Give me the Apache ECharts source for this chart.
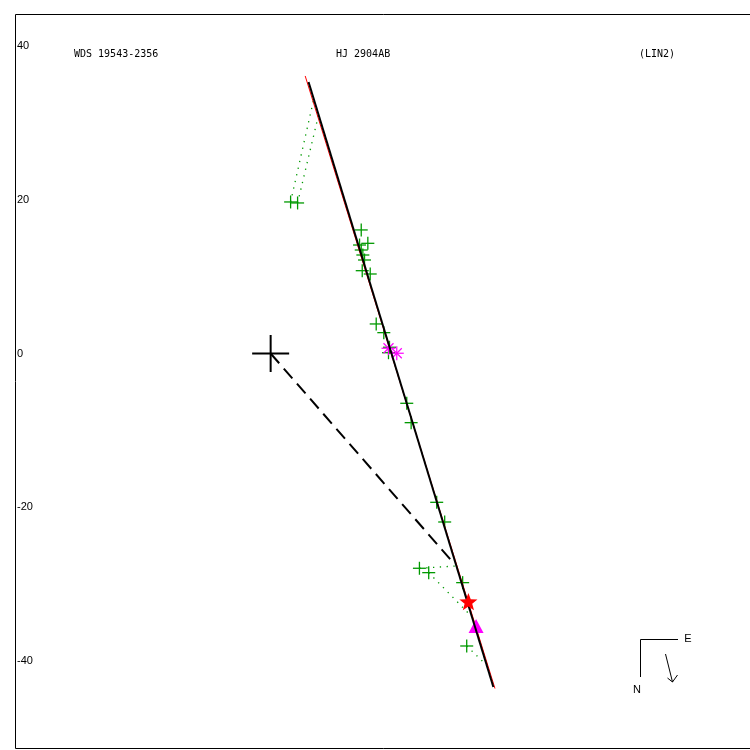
<!DOCTYPE html>
<html>
<head>
<meta charset="utf-8">
<script src="https://cdn.jsdelivr.net/npm/echarts@6/dist/echarts.min.js"></script>
<style>html,body{margin:0;padding:0;background:#fff}#c{width:750px;height:750px}</style>
</head>
<body>
<div id="c"></div>
<script>
// ---- data (arcsec offsets) ----
const xRange = [-33.30, 62.44];
const yRange = [-51.45, 44.16];
const yTickLabels = [-40, -20, 0, 20, 40];

const obsX = [2.60, 3.51, 11.80, 12.66, 11.58, 11.80, 12.01, 12.23, 11.93, 12.97, 13.75, 14.74, 15.48, 15.35, 17.73, 18.30, 21.63, 22.67, 19.38, 20.59, 25.01, 25.54];
const obsY = [19.71, 19.58, 16.07, 14.33, 14.11, 13.46, 12.81, 12.16, 10.77, 10.34, 3.84, 2.71, 0.81, 0.10, -6.48, -9.00, -19.36, -21.92, -27.94, -28.51, -29.81, -38.05];

// O-C residual lines: observation index -> predicted point
const ocIndex = [0, 1, 18, 19, 21];
const ocPredX = [5.59, 6.24, 24.20, 25.86, 28.10];
const ocPredY = [32.98, 31.02, -27.64, -33.89, -40.52];

const orbitBlackX = [4.94, 29.01];
const orbitBlackY = [35.32, -43.38];
const orbitRedX = [4.50, 29.22];
const orbitRedY = [36.10, -43.58];

const nodeLineX = [0, 23.93];
const nodeLineY = [0, -27.38];

const specialX = [15.35, 16.43];   // magenta asterisks
const specialY = [0.68, 0.03];
const starPt = [25.76, -32.39];     // red star
const triPt = [26.76, -35.45];      // magenta triangle
const originPt = [0, 0];

const titles = ['WDS 19543-2356', 'HJ 2904AB', '(LIN2)'];

// ---- build ----
const GREEN = '#009900', MAG = '#ff00ff';
const zip = (a, b) => a.map((v, i) => [v, b[i]]);

function crossItem(h, color, lw) {
  return function (params, api) {
    const p = api.coord([api.value(0), api.value(1)]);
    return { type: 'group', children: [
      { type: 'line', shape: { x1: p[0] - h, y1: p[1], x2: p[0] + h, y2: p[1] }, style: { stroke: color, lineWidth: lw } },
      { type: 'line', shape: { x1: p[0], y1: p[1] - h, x2: p[0], y2: p[1] + h }, style: { stroke: color, lineWidth: lw } }
    ]};
  };
}
function asteriskItem(params, api) {
  const p = api.coord([api.value(0), api.value(1)]);
  const h = 7, d = 5;
  const ch = [[h,0],[0,h],[d,d],[d,-d]].map(o => ({
    type: 'line', shape: { x1: p[0] - o[0], y1: p[1] - o[1], x2: p[0] + o[0], y2: p[1] + o[1] },
    style: { stroke: MAG, lineWidth: 1.2 }
  }));
  return { type: 'group', children: ch };
}
function starItem(params, api) {
  const p = api.coord([api.value(0), api.value(1)]);
  const pts = [];
  for (let i = 0; i < 10; i++) {
    const r = i % 2 === 0 ? 9.5 : 4;
    const a = -Math.PI / 2 + i * Math.PI / 5;
    pts.push([p[0] + r * Math.cos(a), p[1] + r * Math.sin(a)]);
  }
  return { type: 'polygon', shape: { points: pts }, style: { fill: '#ff0000' } };
}

const ocData = ocIndex.map((k, i) => ({ coords: [[obsX[k], obsY[k]], [ocPredX[i], ocPredY[i]]] }));

const chart = echarts.init(document.getElementById('c'), null, { renderer: 'canvas' });
chart.setOption({
  animation: false,
  backgroundColor: '#fff',
  grid: { left: 15, top: 14, width: 736, height: 735, show: false },
  xAxis: { type: 'value', min: xRange[0], max: xRange[1], show: false },
  yAxis: {
    type: 'value', min: yRange[0], max: yRange[1],
    axisLine: { show: false }, axisTick: { show: false }, splitLine: { show: false },
    axisLabel: { inside: true, margin: 2, customValues: yTickLabels, color: '#000', fontFamily: 'Liberation Sans', fontSize: 11, formatter: v => String(v) }
  },
  series: [
    { type: 'lines', coordinateSystem: 'cartesian2d', data: ocData, z: 1,
      lineStyle: { color: GREEN, width: 1.3, type: [1.3, 5.5], opacity: 1 } },
    { type: 'custom', data: zip(obsX, obsY), renderItem: crossItem(6.5, GREEN, 1.3), z: 2 },
    { type: 'line', data: zip(nodeLineX, nodeLineY), symbol: 'none', z: 3,
      lineStyle: { color: '#000', width: 2, type: [13, 7] } },
    { type: 'line', data: zip(orbitRedX, orbitRedY), symbol: 'none', z: 3,
      lineStyle: { color: '#ff0000', width: 1 } },
    { type: 'scatter', data: [triPt], symbol: 'triangle', symbolSize: [15, 14], z: 4,
      itemStyle: { color: MAG, opacity: 1 } },
    { type: 'custom', data: zip(specialX, specialY), renderItem: asteriskItem, z: 4 },
    { type: 'line', data: zip(orbitBlackX, orbitBlackY), symbol: 'none', z: 5,
      lineStyle: { color: '#000', width: 2 } },
    { type: 'custom', data: [starPt], renderItem: starItem, z: 6 },
    { type: 'custom', data: [originPt], renderItem: crossItem(18.5, '#000', 2), z: 6 }
  ],
  graphic: [
    { type: 'polyline', shape: { points: [[752, 14.5], [15.5, 14.5], [15.5, 748.5], [752, 748.5]] }, style: { stroke: '#000', lineWidth: 1, fill: null } },
    { type: 'text', left: 74, top: 49, style: { text: titles[0], font: '10px "DejaVu Sans Mono"', fill: '#000' } },
    { type: 'text', left: 336, top: 49, style: { text: titles[1], font: '10px "DejaVu Sans Mono"', fill: '#000' } },
    { type: 'text', left: 639, top: 49, style: { text: titles[2], font: '10px "DejaVu Sans Mono"', fill: '#000' } },
    { type: 'polyline', shape: { points: [[678, 639.5], [640.5, 639.5], [640.5, 677]] }, style: { stroke: '#000', lineWidth: 1, fill: null } },
    { type: 'text', x: 688, y: 639, style: { text: 'E', font: '11px "Liberation Sans"', fill: '#000', align: 'center', verticalAlign: 'middle' } },
    { type: 'text', x: 637, y: 690, style: { text: 'N', font: '11px "Liberation Sans"', fill: '#000', align: 'center', verticalAlign: 'middle' } },
    { type: 'line', shape: { x1: 665.5, y1: 654, x2: 672.5, y2: 682 }, style: { stroke: '#000', lineWidth: 1 } },
    { type: 'polyline', shape: { points: [[667.5, 678], [672.5, 682], [677.5, 675]] }, style: { stroke: '#000', lineWidth: 1, fill: null } }
  ]
});
</script>
</body>
</html>
